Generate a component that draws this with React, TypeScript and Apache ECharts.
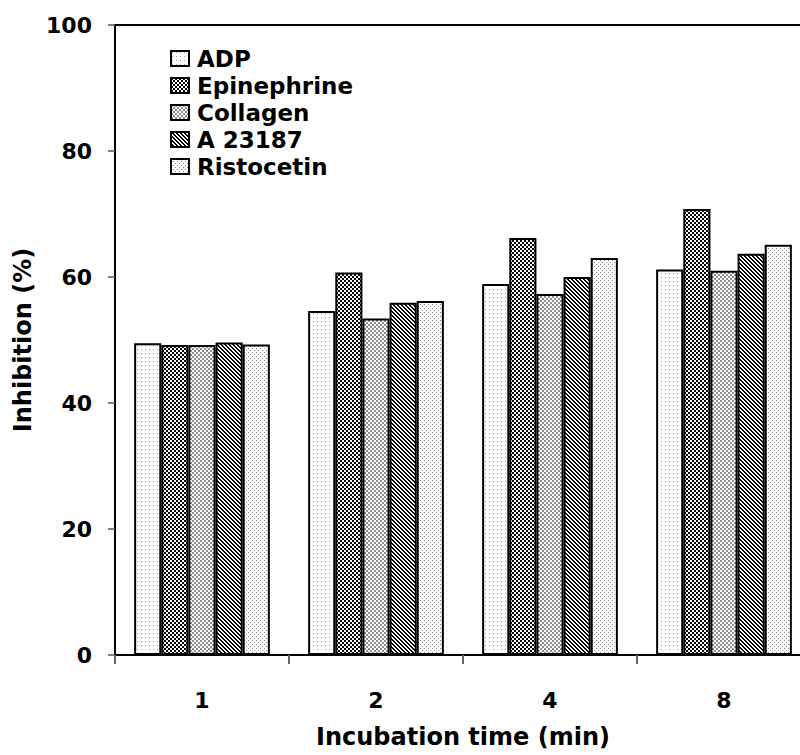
import React, { useEffect, useRef } from "react";
import * as echarts from "echarts";

// Incubation times (min)
const categories: string[] = ["1", "2", "4", "8"];

// Inhibition (%) per agonist
const adp: number[] = [49.5, 54.6, 58.9, 61.2];
const epinephrine: number[] = [49.2, 60.7, 66.2, 70.8];
const collagen: number[] = [49.2, 53.4, 57.3, 61.0];
const a23187: number[] = [49.6, 55.9, 60.0, 63.7];
const ristocetin: number[] = [49.3, 56.2, 63.0, 65.1];

const seriesNames: string[] = ["ADP", "Epinephrine", "Collagen", "A 23187", "Ristocetin"];

const FONT = "'DejaVu Sans', 'Liberation Sans', Arial, sans-serif";

type Painter = (ctx: CanvasRenderingContext2D, size: number) => void;

// Small repeating tile used as a hatch fill
function tile(size: number, paint: Painter) {
  const c = document.createElement("canvas");
  c.width = size;
  c.height = size;
  const ctx = c.getContext("2d")!;
  ctx.fillStyle = "#ffffff";
  ctx.fillRect(0, 0, size, size);
  paint(ctx, size);
  return {
    image: c,
    repeat: "repeat",
    imageWidth: size,
    imageHeight: size,
  } as any;
}

function makePatterns() {
  // sparse gray dots
  const sparseDots = tile(4, (ctx) => {
    ctx.fillStyle = "#9a9a9a";
    ctx.fillRect(1, 1, 1, 1);
  });
  // dense black checker
  const blackChecker = tile(4, (ctx) => {
    ctx.fillStyle = "#000000";
    ctx.fillRect(0, 0, 2, 2);
    ctx.fillRect(2, 2, 2, 2);
  });
  // gray checker
  const grayChecker = tile(4, (ctx) => {
    ctx.fillStyle = "#8e8e8e";
    ctx.fillRect(0, 0, 2, 2);
    ctx.fillRect(2, 2, 2, 2);
  });
  // diagonal stripes running down to the right
  const stripes = tile(4, (ctx, s) => {
    ctx.fillStyle = "#000000";
    for (let y = 0; y < s; y++) {
      ctx.fillRect(y % s, y, 1, 1);
      ctx.fillRect((y + 1) % s, y, 1, 1);
    }
  });
  // denser gray dots
  const denseDots = tile(4, (ctx) => {
    ctx.fillStyle = "#8a8a8a";
    ctx.fillRect(0, 0, 1, 1);
    ctx.fillRect(2, 2, 1, 1);
  });
  return [sparseDots, blackChecker, grayChecker, stripes, denseDots];
}

export default function App() {
  const ref = useRef<HTMLDivElement>(null);

  useEffect(() => {
    if (!ref.current) return;
    const chart = echarts.init(ref.current, undefined, { renderer: "svg" });
    const patterns = makePatterns();
    const values = [adp, epinephrine, collagen, a23187, ristocetin];

    const series = seriesNames.map((name, i) => ({
      name,
      type: "bar" as const,
      data: values[i],
      barGap: "0%",
      barCategoryGap: "22%",
      itemStyle: {
        color: patterns[i],
        borderColor: "#000000",
        borderWidth: 2,
      },
      emphasis: { disabled: true },
    }));

    chart.setOption({
      animation: false,
      backgroundColor: "#ffffff",
      grid: {
        left: 115,
        top: 25,
        width: 696,
        bottom: 100,
        outerBoundsMode: "none",
        containLabel: false,
        show: true,
        borderColor: "#000000",
        borderWidth: 2,
        backgroundColor: "transparent",
      },
      legend: {
        orient: "vertical",
        left: 170,
        top: 47,
        padding: 0,
        icon: "rect",
        itemWidth: 18,
        itemHeight: 15,
        itemGap: 4,
        selectedMode: false,
        data: seriesNames,
        textStyle: {
          fontFamily: FONT,
          fontWeight: "bold",
          fontSize: 23,
          lineHeight: 22.5,
          color: "#000000",
          padding: [0, 0, 0, 3],
        },
      },
      xAxis: {
        type: "category",
        data: categories,
        name: "Incubation time (min)",
        nameLocation: "middle",
        nameGap: 70,
        nameTextStyle: {
          fontFamily: FONT,
          fontWeight: "bold",
          fontSize: 24,
          color: "#000000",
        },
        axisLine: { lineStyle: { color: "#000000", width: 2 } },
        axisTick: { show: true, length: 9, lineStyle: { color: "#666666", width: 2 } },
        axisLabel: {
          margin: 34,
          fontFamily: FONT,
          fontWeight: "bold",
          fontSize: 22,
          color: "#000000",
        },
        splitLine: { show: false },
      },
      yAxis: {
        type: "value",
        min: 0,
        max: 100,
        interval: 20,
        name: "Inhibition (%)",
        nameLocation: "middle",
        nameGap: 77,
        nameRotate: 90,
        nameTextStyle: {
          fontFamily: FONT,
          fontWeight: "bold",
          fontSize: 24,
          color: "#000000",
        },
        axisLine: { show: true, lineStyle: { color: "#000000", width: 2 } },
        axisTick: { show: true, length: 7, lineStyle: { color: "#555555", width: 1.5 } },
        axisLabel: {
          margin: 23,
          fontFamily: FONT,
          fontWeight: "bold",
          fontSize: 22,
          color: "#000000",
        },
        splitLine: { show: false },
      },
      series,
    });

    return () => {
      chart.dispose();
    };
  }, []);

  return (
    <div
      ref={ref}
      style={{ position: "absolute", left: 0, top: 0, width: 800, height: 755, background: "#ffffff" }}
    />
  );
}
